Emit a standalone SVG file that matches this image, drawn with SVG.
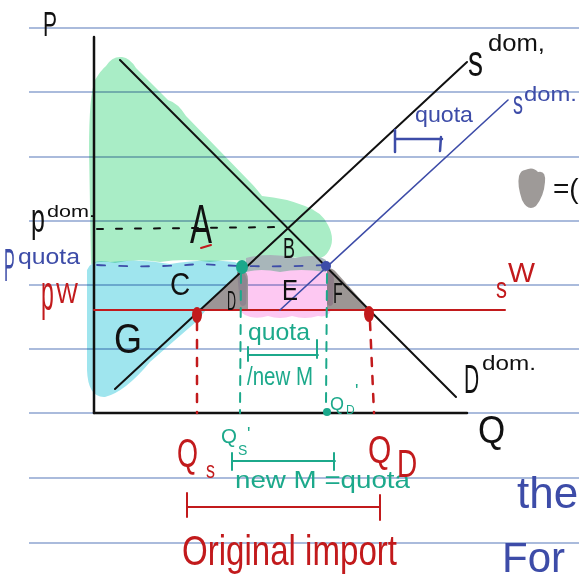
<svg xmlns="http://www.w3.org/2000/svg" width="579" height="583" viewBox="0 0 579 583">
<style>
.rule{stroke:#aabbdc;stroke-width:1.8}
.fill{mix-blend-mode:multiply}
.t{font-family:"Liberation Sans","DejaVu Sans",sans-serif}
.k{fill:#111}
.r{fill:#c21a1c}
.b{fill:#3d4ca8}
.g{fill:#1ca98b}
.blk{stroke:#111;fill:none;stroke-linecap:round}
.red{stroke:#c21a1c;fill:none;stroke-linecap:round}
.blu{stroke:#3d4ca8;fill:none;stroke-linecap:round}
.grn{stroke:#1ca98b;fill:none;stroke-linecap:round}
</style>
<rect width="579" height="583" fill="#fff"/>
<g id="rules">
<line class="rule" x1="29" y1="28" x2="579" y2="28"/>
<line class="rule" x1="29" y1="92" x2="579" y2="92"/>
<line class="rule" x1="29" y1="157" x2="579" y2="157"/>
<line class="rule" x1="29" y1="221" x2="579" y2="221"/>
<line class="rule" x1="29" y1="285" x2="579" y2="285"/>
<line class="rule" x1="29" y1="349" x2="579" y2="349"/>
<line class="rule" x1="29" y1="413" x2="579" y2="413"/>
<line class="rule" x1="29" y1="478" x2="579" y2="478"/>
<line class="rule" x1="29" y1="543" x2="579" y2="543"/>
</g>
<g id="areas">
<path class="fill" fill="#a9edc6" d="M91,264 L89,150 Q89,95 95,80 Q101,70 106,66 Q112,56 122,57 Q130,58 136,68 L168,100 Q178,103 186,116 L250,182 Q256,188 262,196 Q285,198 305,206 Q322,212 328,225 Q336,240 328,252 Q322,262 305,258 Q280,256 255,262 Q235,258 210,262 Q185,258 160,262 Q135,258 115,263 Q100,260 91,264 Z"/>
<path class="fill" fill="#9fe5ee" d="M87,270 Q92,258 110,262 Q140,258 170,264 Q205,258 235,262 L246,268 L206,310 L196,322 Q175,340 150,362 Q125,392 105,397 Q88,398 87,370 Z"/>
<path class="fill" fill="#fdc8f2" d="M240,266 L330,266 L331,310 Q328,318 318,316 Q305,320 292,316 Q280,320 268,316 Q255,320 245,315 Q238,312 239,300 Z"/>
<path fill="#a8b6ba" d="M246,258 Q270,252 295,258 Q315,253 326,260 L326,272 Q300,268 280,272 Q260,268 246,272 Z"/>
<path fill="#9c9596" d="M200,311 L241,271 Q248,270 248,280 L248,311 Z"/>
<path fill="#9c9694" d="M327,270 Q331,266 336,272 L370,310 L327,310 Z"/>
<path fill="#8e7d88" d="M327,270 Q333,268 334,280 L333,304 Q330,308 327,304 Z"/>
<path fill="#8e8590" d="M237,272 Q244,268 247,280 L246,304 Q243,308 240,304 Z"/>
</g>
<g id="connectors">
<line class="blk" x1="94" y1="37" x2="94" y2="413" stroke-width="2.5"/>
<line class="blk" x1="94" y1="413" x2="467" y2="413" stroke-width="2.5"/>
<line class="blk" x1="120" y1="60" x2="456" y2="397" stroke-width="2"/>
<line class="blk" x1="115" y1="389" x2="467" y2="62" stroke-width="2"/>
<line class="red" x1="94" y1="310" x2="505" y2="310" stroke-width="2"/>
<line class="blu" x1="280" y1="310" x2="508" y2="100" stroke-width="1.6"/>
<path class="blk" d="M97,229 L285,227" stroke-width="2" stroke-dasharray="6 13"/>
<path class="blu" d="M97,265 Q150,268 200,264 Q260,268 325,265" stroke-width="1.8" stroke-dasharray="8 14"/>
<line class="red" x1="197" y1="322" x2="197" y2="413" stroke-width="2.5" stroke-dasharray="8 10"/>
<line class="red" x1="370" y1="322" x2="374" y2="413" stroke-width="2.5" stroke-dasharray="8 10"/>
<line class="grn" x1="241" y1="274" x2="240" y2="413" stroke-width="2" stroke-dasharray="9 8"/>
<line class="grn" x1="327" y1="274" x2="326" y2="405" stroke-width="2" stroke-dasharray="9 8"/>
<path class="blu" d="M395,139 L442,139 M395,130 L395,152 M441,137 L440,151" stroke-width="2.5"/>
<path class="grn" d="M248,355 L318,355 M248,347 L248,361 M317,340 L317,358" stroke-width="2"/>
<path class="grn" d="M232,461 L335,461 M232,453 L232,470 M334,453 L334,470" stroke-width="2"/>
<path class="red" d="M187,507 L380,507 M187,493 L187,517 M380,495 L380,520" stroke-width="2"/>
<path class="red" d="M201,248 L211,245" stroke-width="2"/>
<path d="M525,170 Q533,166 538,172 Q546,170 545,182 Q544,196 536,206 Q528,212 522,200 Q517,185 519,176 Q521,170 525,170 Z" fill="#9e9a98"/>
</g>
<g id="points">
<ellipse cx="242" cy="267" rx="6" ry="7" fill="#1ba88b"/>
<circle cx="326" cy="266" r="5" fill="#3d4ca8"/>
<ellipse cx="197" cy="315" rx="5" ry="8" fill="#c21a1c"/>
<ellipse cx="369" cy="314" rx="5" ry="8" fill="#c21a1c"/>
<circle cx="327" cy="412" r="4" fill="#1ba88b"/>
</g>
<g id="labels" class="t">
<text class="k" transform="translate(43,36) scale(1,1.7)" font-size="21">P</text>
<text class="k" transform="translate(31,232) scale(1,1.6)" font-size="25">p</text>
<text class="k" x="47" y="217" font-size="17" textLength="48" lengthAdjust="spacingAndGlyphs">dom.</text>
<text class="b" transform="translate(4,281) scale(1,2.9)" font-size="16">P</text>
<text class="b" x="18" y="264" font-size="22" textLength="62" lengthAdjust="spacingAndGlyphs">quota</text>
<text class="r" transform="translate(41,310) scale(1,2.17)" font-size="23">p</text>
<text class="r" x="56" y="303" font-size="30" textLength="22" lengthAdjust="spacingAndGlyphs">W</text>
<text class="k" transform="translate(190,243) scale(1,1.67)" font-size="33">A</text>
<text class="k" transform="translate(283,258) scale(1,1.67)" font-size="18">B</text>
<text class="k" transform="translate(170,295) scale(1,1.15)" font-size="28">C</text>
<text class="k" transform="translate(227,310) scale(1,2.2)" font-size="12.5">D</text>
<text class="k" transform="translate(282,300) scale(1,1.25)" font-size="24">E</text>
<text class="k" transform="translate(333,303) scale(1,1.9)" font-size="16">F</text>
<text class="k" transform="translate(114,353) scale(1,1.16)" font-size="36">G</text>
<text class="k" transform="translate(468,76) scale(1,1.47)" font-size="30">s</text>
<text class="k" x="488" y="51" font-size="24" textLength="57" lengthAdjust="spacingAndGlyphs">dom,</text>
<text class="b" transform="translate(513,114) scale(1,1.7)" font-size="20">s</text>
<text class="b" x="524" y="101" font-size="20" textLength="53" lengthAdjust="spacingAndGlyphs">dom.</text>
<text class="b" x="415" y="122" font-size="22" textLength="58" lengthAdjust="spacingAndGlyphs">quota</text>
<text class="k" x="553" y="198" font-size="28">=(</text>
<text class="r" transform="translate(496,298) scale(1,1.36)" font-size="22">s</text>
<text class="r" x="508" y="282" font-size="28" textLength="27" lengthAdjust="spacingAndGlyphs">W</text>
<text class="k" transform="translate(464,393) scale(1,1.9)" font-size="21">D</text>
<text class="k" x="482" y="370" font-size="20" textLength="54" lengthAdjust="spacingAndGlyphs">dom.</text>
<text class="k" transform="translate(478,443) scale(1,1.1)" font-size="35">Q</text>
<text class="g" x="248" y="340" font-size="24" textLength="62" lengthAdjust="spacingAndGlyphs">quota</text>
<text class="g" x="247" y="385" font-size="26" textLength="66" lengthAdjust="spacingAndGlyphs">/new M</text>
<text class="g" x="330" y="410" font-size="18">Q</text>
<text class="g" x="346" y="414" font-size="12">D</text>
<text class="g" x="355" y="397" font-size="18">'</text>
<text class="g" x="221" y="443" font-size="20.5">Q</text>
<text class="g" x="238" y="455" font-size="14">S</text>
<text class="g" x="247" y="440" font-size="18">'</text>
<text class="g" x="235" y="488" font-size="24" textLength="175" lengthAdjust="spacingAndGlyphs">new  M =quota</text>
<text class="r" transform="translate(177,467) scale(1,1.48)" font-size="27">Q</text>
<text class="r" x="206" y="478" font-size="24" textLength="9" lengthAdjust="spacingAndGlyphs">s</text>
<text class="r" transform="translate(368,463) scale(1,1.29)" font-size="30">Q</text>
<text class="r" transform="translate(397,477) scale(1,1.36)" font-size="28">D</text>
<text class="r" x="182" y="565" font-size="42" textLength="215" lengthAdjust="spacingAndGlyphs">Original import</text>
<text class="b" x="517" y="508" font-size="44">the</text>
<text class="b" x="502" y="572" font-size="42">For</text>
</g>
</svg>
